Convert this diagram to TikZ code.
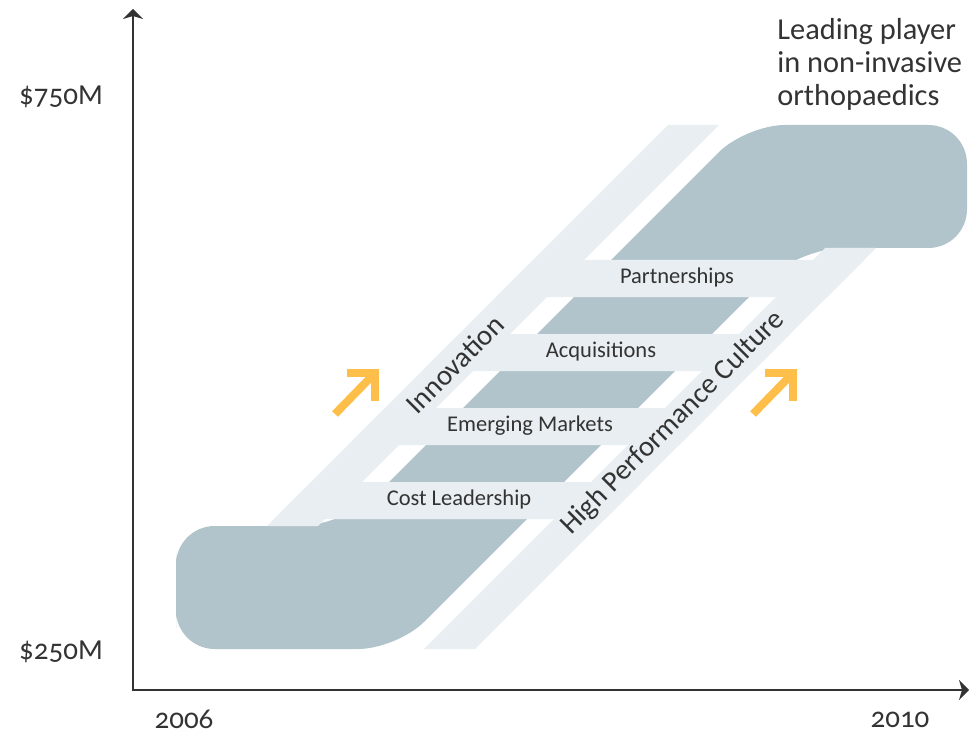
\documentclass[tikz,border=0pt]{standalone}
\usepackage{fontspec}
\setmainfont{Carlito}[Numbers=OldStyle]
\usetikzlibrary{arrows.meta}
\definecolor{rampgray}{HTML}{B2C4CB}
\definecolor{bandgray}{HTML}{E8EEF1}
\definecolor{arroworange}{HTML}{FDBF4A}
\definecolor{inkgray}{HTML}{333333}

\begin{document}
\begin{tikzpicture}[x=0.02cm, y=-0.02cm,
    ramp/.style={fill=rampgray},
    band/.style={fill=bandgray},
    steplabel/.style={text=inkgray, font=\fontsize{12.8}{15}\selectfont},
    sidelabel/.style={text=inkgray, font=\fontsize{16.4}{19}\selectfont, rotate=45},
    axislabel/.style={text=inkgray, font=\fontsize{16.5}{19}\selectfont},
    growarrow/.style={draw=arroworange, line width=0.16cm}]
    \useasboundingbox (0,0) rectangle (970,733);

    \fill[ramp, rounded corners=22] (176,590) -- (176,526) [rounded corners=26] -- (345,526)
        [rounded corners=22] -- (746,125) -- (967,125) -- (967,248) [rounded corners=26] -- (798,248)
        [rounded corners=22] -- (397,649) -- (176,649) -- cycle;

    \fill[band] (267,526) -- (318,526) -- (719,125) -- (668,125) -- cycle;
    \fill[band] (424,649) -- (475,649) -- (876,248) -- (825,248) -- cycle;
    \foreach \y in {260,334,408,482}
      \fill[band] ({793-\y},\y) -- ({1124-\y},\y) -- ({1124-\y-37},{\y+37}) -- ({793-\y-37},{\y+37}) -- cycle;

    \node[steplabel] (partner) at (677,278) {Partnerships};
    \node[steplabel] (acquis) at (601,352) {Acquisitions};
    \node[steplabel] (markets) at (530,426) {Emerging Markets};
    \node[steplabel] (cost) at (459,500) {Cost Leadership};

    \node[sidelabel] (innov) at (455,364) {Innovation};
    \node[sidelabel] (culture) at (673,423) {High Performance Culture};

    \draw[growarrow] (335,414) -- (375,373);
    \draw[growarrow] (347,373) -- (375,373) -- (375,401);
    \draw[growarrow] (753,414) -- (793,373);
    \draw[growarrow] (765,373) -- (793,373) -- (793,401);

    \coordinate (origin) at (133,690);
    \coordinate (ytip) at (133,9);
    \coordinate (xtip) at (969,690);
    \draw[inkgray, line width=0.04cm, {Stealth[length=0.2cm,width=0.4cm,inset=0.06cm]}-{Stealth[length=0.2cm,width=0.4cm,inset=0.06cm]}] (ytip) -- (origin) -- (xtip);

    \node[axislabel] (high) at (61,97) {\$750M};
    \node[axislabel] (low) at (61,652) {\$250M};
    \node[axislabel] (start) at (184,719) {2006};
    \node[axislabel] (finish) at (900,720) {2010};
    \node[axislabel, font=\fontsize{17.3}{18.7}\selectfont, anchor=north west, align=left, inner sep=0pt] (goal) at (777,18) {Leading player\\in non-invasive\\orthopaedics};
\end{tikzpicture}
\end{document}
